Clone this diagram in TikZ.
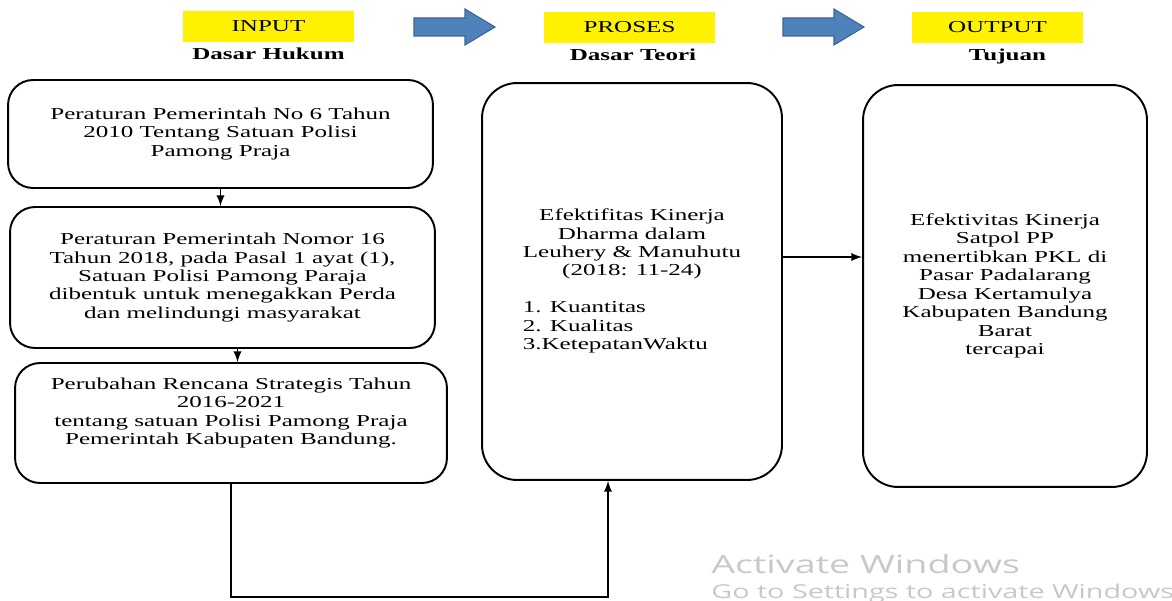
\documentclass[tikz,border=0pt]{standalone}
\usepackage{fontspec}
\setmainfont{Liberation Serif}[FakeStretch=1.5]
\newfontfamily\wmfont{Open Sans}[FakeStretch=1.5]
\usetikzlibrary{positioning}
\definecolor{arrowblue}{HTML}{4F81BD}
\definecolor{arrowedge}{HTML}{3A6497}
\definecolor{wmgray}{HTML}{C8C8C8}

\begin{document}
\begin{tikzpicture}[
        x=0.02cm, y=-0.02cm,
        every node/.style={font=\fontsize{9.5}{10.5}\selectfont},
        headbox/.style={fill=yellow, minimum width=3.42cm, minimum height=6.2mm, inner sep=0pt},
        subhead/.style={font=\fontsize{9.5}{10.5}\selectfont\bfseries, inner sep=0pt},
        rbox/.style={draw, line width=1.1pt, rounded corners=5mm, align=center, inner sep=0pt},
        blockarrow/.style={fill=arrowblue, draw=arrowedge, line width=0.6pt},
        link/.style={line width=1.1pt, -latex},
        wm/.style={text=wmgray, inner sep=0pt, anchor=base west}
    ]
    \useasboundingbox (0,0) rectangle (1172,601);

    % headings
    \node[headbox] (input) at (268.5,26.5) {INPUT};
    \node[headbox] (proses) at (629.5,27.5) {PROSES};
    \node[headbox] (output) at (997.5,27.5) {OUTPUT};
    \node[subhead, below=1.1mm of input] (hukum) {Dasar Hukum};
    \node[subhead, below=1.1mm of proses, xshift=0.7mm] (teoriH) {Dasar Teori};
    \node[subhead, below=1.1mm of output, xshift=2mm] (tujuanH) {Tujuan};

    \foreach \x in {414,783}
        \draw[blockarrow] (\x,18) -- ++(51,0) -- ++(0,-9) -- ++(30,18) -- ++(-30,18) -- ++(0,-9) -- ++(-51,0) -- cycle;

    % input column
    \node[rbox, minimum width=8.5cm, minimum height=2.16cm] (hk1) at (220.5,134)
        {Peraturan Pemerintah No 6 Tahun\\2010 Tentang Satuan Polisi\\Pamong Praja};
    \node[rbox, minimum width=8.5cm, minimum height=2.82cm] (hk2) at (222.5,277.5)
        {Peraturan Pemerintah Nomor 16\\Tahun 2018, pada Pasal 1 ayat (1),\\Satuan Polisi Pamong Paraja\\dibentuk untuk menegakkan Perda\\dan melindungi masyarakat};
    \node[rbox, minimum width=8.64cm, minimum height=2.4cm] (hk3) at (231,423)
        {Perubahan Rencana Strategis Tahun\\2016-2021\\tentang satuan Polisi Pamong Praja\\Pemerintah Kabupaten Bandung.\\\strut};

    % proses + output
    \node[rbox, rounded corners=7mm, minimum width=6cm, minimum height=7.94cm] (teori) at (632,281.5)
        {\begin{tabular}{@{}c@{}}
            Efektifitas Kinerja\\Dharma dalam\\Leuhery \& Manuhutu\\(2018: 11-24)\\[10.5pt]
            \multicolumn{1}{@{}l@{}}{1. Kuantitas}\\
            \multicolumn{1}{@{}l@{}}{2. Kualitas}\\
            \multicolumn{1}{@{}l@{}}{3.KetepatanWaktu}
        \end{tabular}};
    \node[rbox, rounded corners=7mm, minimum width=5.68cm, minimum height=8.04cm] (tujuan) at (1005,286)
        {Efektivitas Kinerja\\Satpol PP\\menertibkan PKL di\\Pasar Padalarang\\Desa Kertamulya\\Kabupaten Bandung\\Barat\\tercapai};

    \draw[link] (hk1.south) -- (hk1.south |- hk2.north);
    \draw[link] ([xshift=3mm]hk2.south) -- ([xshift=3mm]hk2.south |- hk3.north);
    \coordinate (base) at (608,597);
    \draw[link] (hk3.south) |- (base) -- (base |- teori.south);
    \draw[link] ([yshift=4.9mm]teori.east) -- ([yshift=4.9mm]teori.east -| tujuan.west);

    \node[wm, font=\wmfont\fontsize{14.3}{16}\selectfont] (act1) at (711,573) {Activate Windows};
    \node[wm, font=\wmfont\fontsize{10.9}{12}\selectfont] (act2) at (711,598) {Go to Settings to activate Windows};
\end{tikzpicture}
\end{document}
